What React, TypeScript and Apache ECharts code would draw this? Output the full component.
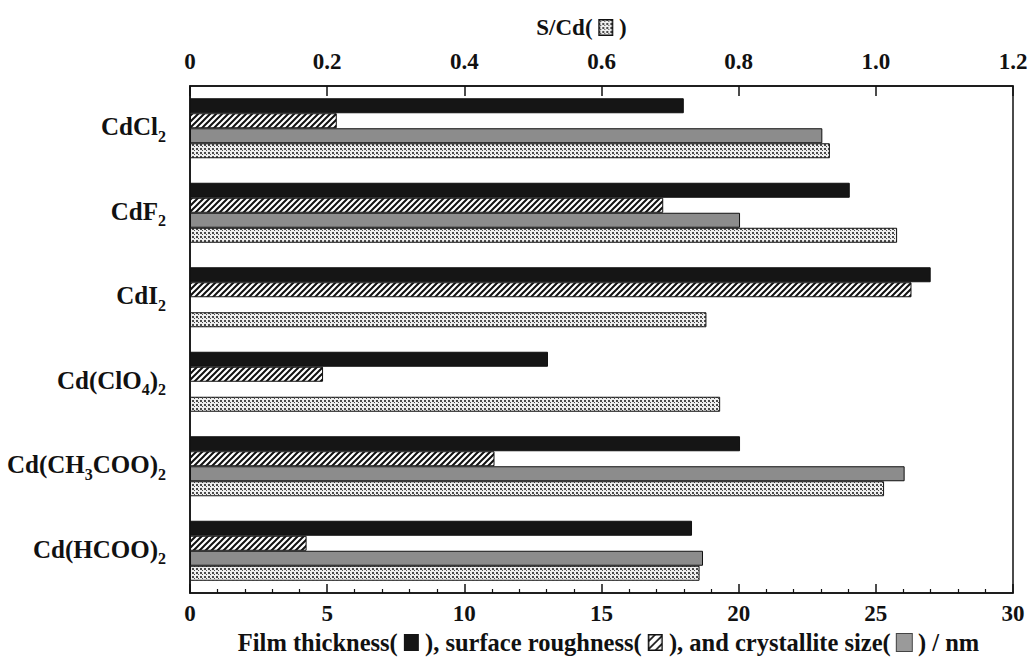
import React, { useEffect, useRef } from 'react';
import * as echarts from 'echarts';

const categories = ['CdCl2', 'CdF2', 'CdI2', 'Cd(ClO4)2', 'Cd(CH3COO)2', 'Cd(HCOO)2'];
const filmThickness = [18.0, 24.05, 27.0, 13.05, 20.05, 18.3];
const surfaceRoughness = [5.35, 17.25, 26.3, 4.85, 11.1, 4.25];
const crystalliteSize: (number | string)[] = [23.05, 20.05, '-', '-', 26.05, 18.7];
const sCdRatio = [0.933, 1.031, 0.753, 0.773, 1.012, 0.743];

const FONT = '"Liberation Serif", "Times New Roman", serif';

function makeCanvas(w: number, h: number, draw: (ctx: CanvasRenderingContext2D) => void) {
  const c = document.createElement('canvas');
  c.width = w;
  c.height = h;
  const ctx = c.getContext('2d')!;
  draw(ctx);
  return c;
}

function drawHatch(ctx: CanvasRenderingContext2D, w: number, h: number, step: number, lw: number) {
  ctx.fillStyle = '#fff';
  ctx.fillRect(0, 0, w, h);
  ctx.strokeStyle = '#111';
  ctx.lineWidth = lw;
  ctx.beginPath();
  for (let k = -h; k <= w + h; k += step) {
    ctx.moveTo(k - 1, h + 1);
    ctx.lineTo(k + h + 1, -1);
  }
  ctx.stroke();
}

function drawDots(ctx: CanvasRenderingContext2D, w: number, h: number) {
  ctx.fillStyle = '#eeeeee';
  ctx.fillRect(0, 0, w, h);
  ctx.fillStyle = '#4a4a4a';
  for (let y = 0; y < h; y += 4) {
    for (let x = 0; x < w; x += 4) {
      ctx.fillRect(x, y, 2, 2);
      ctx.fillRect(x + 2, y + 2, 1, 1);
    }
  }
}

const App: React.FC = () => {
  const ref = useRef<HTMLDivElement>(null);

  useEffect(() => {
    if (!ref.current) return;
    const chart = echarts.init(ref.current, undefined, { renderer: 'svg' });

    const hatchPat = makeCanvas(6, 6, (ctx) => drawHatch(ctx, 6, 6, 6, 2));
    const dotPat = makeCanvas(4, 4, (ctx) => drawDots(ctx, 4, 4));

    const hatchIcon = makeCanvas(15, 17, (ctx) => {
      drawHatch(ctx, 15, 17, 8, 1.6);
      ctx.strokeStyle = '#111';
      ctx.lineWidth = 1.5;
      ctx.strokeRect(0.75, 0.75, 13.5, 15.5);
    }).toDataURL();
    const dotIcon = makeCanvas(15, 17, (ctx) => {
      drawDots(ctx, 15, 17);
      ctx.strokeStyle = '#111';
      ctx.lineWidth = 1.5;
      ctx.strokeRect(0.75, 0.75, 13.5, 15.5);
    }).toDataURL();

    const nameRich = {
      k: { width: 15, height: 17, backgroundColor: '#151515' },
      h: { width: 15, height: 17, backgroundColor: { image: hatchIcon } },
      g: { width: 15, height: 17, backgroundColor: '#9a9a9a', borderColor: '#444', borderWidth: 1 },
      d: { width: 15, height: 17, backgroundColor: { image: dotIcon } },
    };

    const barBorder = { borderColor: '#111', borderWidth: 1 };

    const option: any = {
      animation: false,
      backgroundColor: '#fff',
      textStyle: { fontFamily: FONT },
      grid: {
        left: 190,
        right: 18,
        top: 86,
        bottom: 71,
        show: true,
        borderColor: '#111',
        borderWidth: 1.5,
        backgroundColor: 'transparent',
      },
      xAxis: [
        {
          type: 'value',
          position: 'bottom',
          min: 0,
          max: 30,
          interval: 5,
          name: 'Film thickness( {k|} ), surface roughness( {h|} ), and crystallite size( {g|} ) / nm',
          nameLocation: 'middle',
          nameGap: 37,
          nameTextStyle: {
            fontFamily: FONT,
            fontWeight: 'bold',
            fontSize: 24.5,
            color: '#111',
            padding: [0, 0, 0, 14],
            rich: nameRich,
          },
          axisLine: { show: true, lineStyle: { color: '#111', width: 1.5 } },
          axisTick: { show: true, inside: true, length: 9, lineStyle: { color: '#111', width: 1.5 } },
          minorTick: { show: true, splitNumber: 5, length: 4, lineStyle: { color: '#111', width: 1.2 } },
          splitLine: { show: false },
          axisLabel: {
            margin: 9,
            fontFamily: FONT,
            fontWeight: 'bold',
            fontSize: 23,
            color: '#111',
          },
        },
        {
          type: 'value',
          position: 'top',
          min: 0,
          max: 1.2,
          interval: 0.2,
          name: 'S/Cd( {d|} )',
          nameLocation: 'middle',
          nameGap: 47,
          nameTextStyle: {
            fontFamily: FONT,
            fontWeight: 'bold',
            fontSize: 23,
            color: '#111',
            padding: [0, 40, 0, 0],
            rich: nameRich,
          },
          axisLine: { show: true, lineStyle: { color: '#111', width: 1.5 } },
          axisTick: { show: true, inside: true, length: 10, lineStyle: { color: '#111', width: 1.5 } },
          splitLine: { show: false },
          axisLabel: {
            margin: 13,
            fontFamily: FONT,
            fontWeight: 'bold',
            fontSize: 23,
            color: '#111',
            formatter: (v: number) => (v === 0 ? '0' : v.toFixed(1)),
          },
        },
      ],
      yAxis: {
        type: 'category',
        data: categories,
        inverse: true,
        axisLine: { show: true, lineStyle: { color: '#111', width: 1.5 } },
        axisTick: { show: false },
        axisLabel: {
          margin: 24,
          fontFamily: FONT,
          fontWeight: 'bold',
          fontSize: 25,
          color: '#111',
          formatter: (v: string) => v.replace(/(\d)/g, '{s|$1}').replace(/([^}|]+)(?=\{|$)/g, (m) => (m ? '{m|' + m + '}' : m)),
          rich: {
            m: { fontFamily: FONT, fontWeight: 'bold', fontSize: 25, color: '#111', lineHeight: 28, verticalAlign: 'top' },
            s: { fontFamily: FONT, fontWeight: 'bold', fontSize: 16, color: '#111', lineHeight: 16, padding: [14, 0, 0, 0], verticalAlign: 'top' },
          },
        },
      },
      series: [
        {
          name: 'Film thickness',
          type: 'bar',
          xAxisIndex: 0,
          data: filmThickness,
          barWidth: 15,
          barGap: '0%',
          itemStyle: { color: '#151515', ...barBorder },
        },
        {
          name: 'Surface roughness',
          type: 'bar',
          xAxisIndex: 0,
          data: surfaceRoughness,
          barWidth: 15,
          barGap: '0%',
          itemStyle: {
            color: { image: hatchPat, repeat: 'repeat', imageWidth: 6, imageHeight: 6 },
            ...barBorder,
          },
        },
        {
          name: 'Crystallite size',
          type: 'bar',
          xAxisIndex: 0,
          data: crystalliteSize,
          barWidth: 15,
          barGap: '0%',
          itemStyle: { color: '#8c8c8c', ...barBorder },
        },
        {
          name: 'S/Cd',
          type: 'bar',
          xAxisIndex: 1,
          data: sCdRatio,
          barWidth: 15,
          barGap: '0%',
          itemStyle: {
            color: { image: dotPat, repeat: 'repeat', imageWidth: 4, imageHeight: 4 },
            ...barBorder,
          },
        },
      ],
    };

    chart.setOption(option);
    return () => chart.dispose();
  }, []);

  return (
    <div
      ref={ref}
      style={{ position: 'fixed', left: 0, top: 0, width: 1031, height: 664, background: '#fff' }}
    />
  );
};

export default App;
